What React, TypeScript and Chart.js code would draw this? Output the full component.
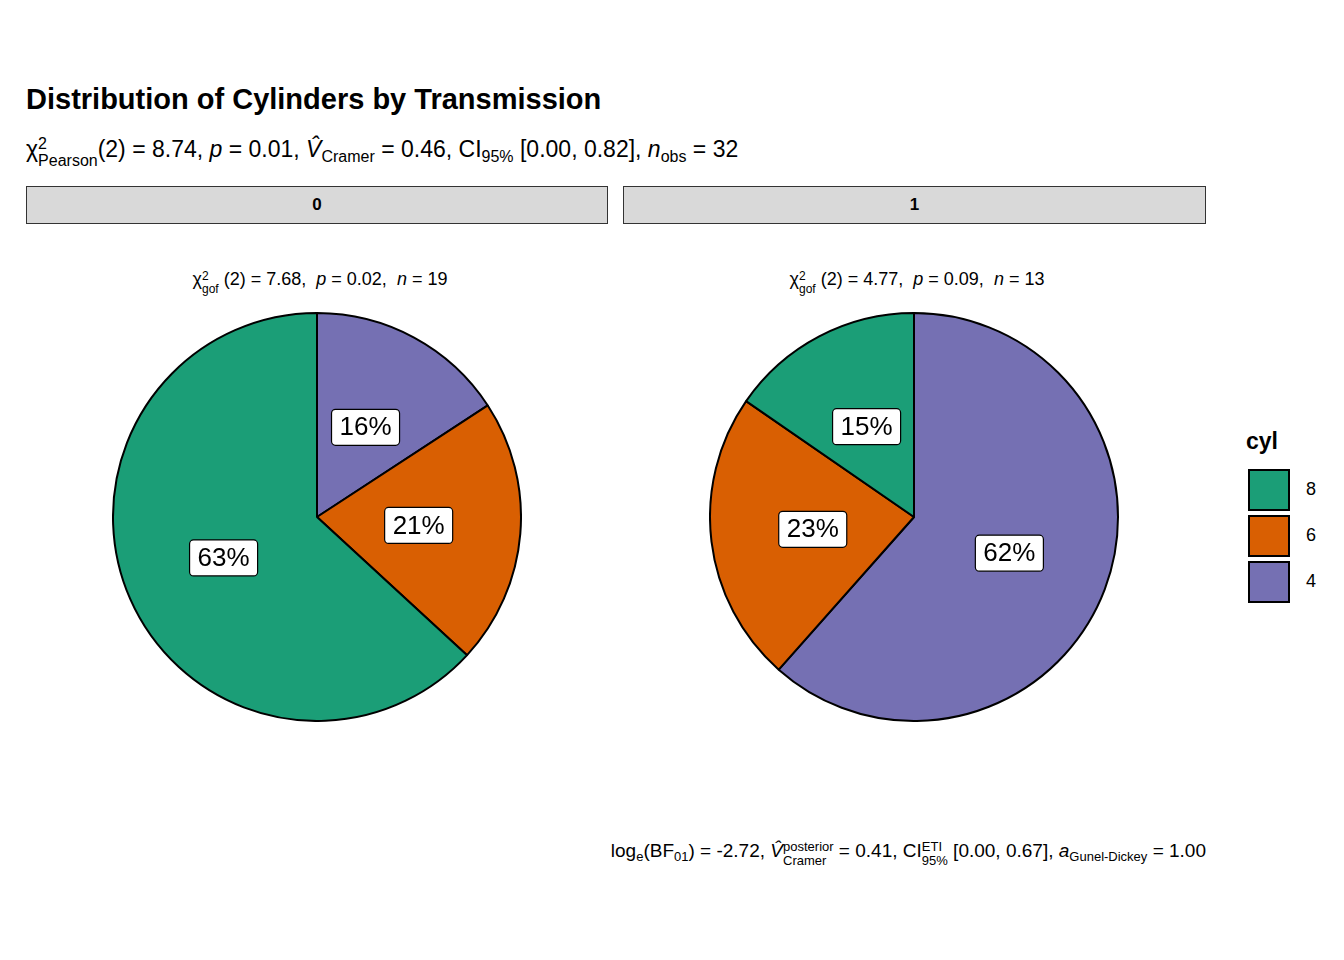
import React, { useEffect, useRef } from "react";
import { Chart, registerables } from "chart.js";

Chart.register(...registerables);

// cyl levels, in drawing order (clockwise from 12 o'clock)
const cylLevels = ["4", "6", "8"];
const cylColors = ["#7570B3", "#D95F02", "#1B9E77"];
// counts per transmission (am)
const countsAm0 = [3, 4, 12];
const countsAm1 = [8, 3, 2];
const facetLabels = ["0", "1"];

const FONT = "'Liberation Sans', Arial, sans-serif";

const labelPlugin = {
  id: "pctLabels",
  afterDatasetsDraw(chart: any) {
    const ctx = chart.ctx;
    const meta = chart.getDatasetMeta(0);
    const data = chart.data.datasets[0].data as number[];
    const total = data.reduce((a, b) => a + b, 0);
    ctx.save();
    ctx.font = `26px ${FONT}`;
    ctx.textAlign = "center";
    ctx.textBaseline = "middle";
    meta.data.forEach((arc: any, i: number) => {
      const p = arc.tooltipPosition();
      const txt = `${Math.round((data[i] / total) * 100)}%`;
      const w = ctx.measureText(txt).width + 16;
      const h = 36;
      ctx.beginPath();
      ctx.roundRect(p.x - w / 2, p.y - h / 2, w, h, 4);
      ctx.fillStyle = "#fff";
      ctx.fill();
      ctx.lineWidth = 1.2;
      ctx.strokeStyle = "#000";
      ctx.stroke();
      ctx.fillStyle = "#000";
      ctx.fillText(txt, p.x, p.y + 1);
    });
    ctx.restore();
  },
};

const Pie: React.FC<{ data: number[]; cx: number; cy: number }> = ({ data, cx, cy }) => {
  const ref = useRef<HTMLCanvasElement | null>(null);
  useEffect(() => {
    if (!ref.current) return;
    const chart = new Chart(ref.current, {
      type: "pie",
      data: {
        labels: cylLevels,
        datasets: [{ data, backgroundColor: cylColors, borderColor: "#000", borderWidth: 2 }],
      },
      options: {
        animation: false,
        responsive: false,
        layout: { padding: 0 },
        plugins: { legend: { display: false }, tooltip: { enabled: false } },
      },
      plugins: [labelPlugin],
    });
    return () => chart.destroy();
  }, [data]);
  const size = 410;
  return (
    <canvas
      ref={ref}
      width={size}
      height={size}
      style={{ position: "absolute", left: cx - size / 2, top: cy - size / 2, width: size, height: size }}
    />
  );
};

const abs = (x: number, y: number, extra: React.CSSProperties = {}): React.CSSProperties => ({
  position: "absolute",
  left: x,
  top: y,
  whiteSpace: "nowrap",
  ...extra,
});

const Stack: React.FC<{ sup: string; sub: string; size: number }> = ({ sup, sub, size }) => (
  <span style={{ display: "inline-flex", flexDirection: "column", verticalAlign: "middle", fontSize: size, lineHeight: 1.05, marginTop: 4 }}>
    <span>{sup}</span>
    <span>{sub}</span>
  </span>
);

const App: React.FC = () => {
  const strip: React.CSSProperties = {
    position: "absolute",
    top: 186,
    height: 38,
    background: "#D9D9D9",
    border: "1px solid #333",
    boxSizing: "border-box",
    fontWeight: "bold",
    fontSize: 17,
    display: "flex",
    alignItems: "center",
    justifyContent: "center",
  };
  const gof = (x: number, chi: string, p: string, n: number) => (
    <div style={abs(x, 266, { fontSize: 18, transform: "translateX(-50%)" })}>
      χ<Stack sup="2" sub="gof" size={12} /> (2) = {chi}, &nbsp;<i>p</i> = {p}, &nbsp;<i>n</i> = {n}
    </div>
  );
  return (
    <div style={{ position: "absolute", left: 0, top: 0, width: 1344, height: 960, background: "#fff", fontFamily: FONT, color: "#000" }}>
      <div style={abs(26, 83, { fontSize: 29, fontWeight: "bold" })}>Distribution of Cylinders by Transmission</div>
      <div style={abs(26, 132, { fontSize: 23 })}>
        χ<Stack sup="2" sub="Pearson" size={16} />(2) = 8.74, <i>p</i> = 0.01,{" "}
        <i>V̂</i><sub style={{ fontSize: 16 }}>Cramer</sub> = 0.46, CI<sub style={{ fontSize: 16 }}>95%</sub> [0.00, 0.82],{" "}
        <i>n</i><sub style={{ fontSize: 16 }}>obs</sub> = 32
      </div>
      <div style={{ ...strip, left: 26, width: 582 }}>{facetLabels[0]}</div>
      <div style={{ ...strip, left: 623, width: 583 }}>{facetLabels[1]}</div>
      {gof(320, "7.68", "0.02", 19)}
      {gof(917, "4.77", "0.09", 13)}
      <Pie data={countsAm0} cx={317} cy={517} />
      <Pie data={countsAm1} cx={914} cy={517} />
      <div style={abs(1246, 428, { fontSize: 23, fontWeight: "bold" })}>cyl</div>
      {[2, 1, 0].map((i, k) => (
        <React.Fragment key={i}>
          <div style={abs(1248, 469 + k * 46, { width: 42, height: 42, boxSizing: "border-box", background: cylColors[i], border: "2px solid #000" })} />
          <div style={abs(1306, 479 + k * 46, { fontSize: 18 })}>{cylLevels[i]}</div>
        </React.Fragment>
      ))}
      <div style={abs(1206, 836, { fontSize: 19, transform: "translateX(-100%)" })}>
        log<sub style={{ fontSize: 13 }}>e</sub>(BF<sub style={{ fontSize: 13 }}>01</sub>) = -2.72, <i>V̂</i>
        <Stack sup="posterior" sub="Cramer" size={13} /> = 0.41, CI<Stack sup="ETI" sub="95%" size={13} /> [0.00, 0.67],{" "}
        <i>a</i><sub style={{ fontSize: 13 }}>Gunel-Dickey</sub> = 1.00
      </div>
    </div>
  );
};

export default App;
